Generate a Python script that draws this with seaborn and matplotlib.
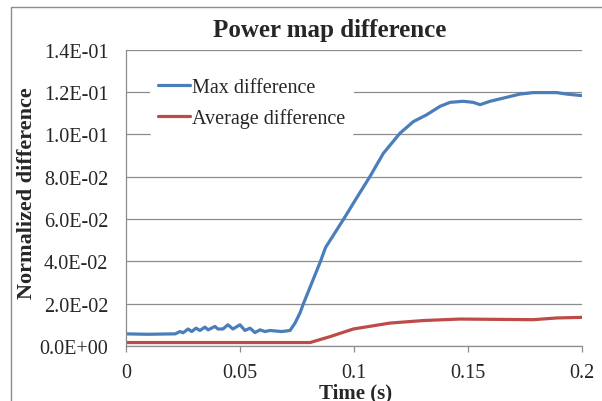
import matplotlib
matplotlib.use("Agg")
import matplotlib.pyplot as plt
import matplotlib.patches as mpatches
from matplotlib.ticker import FuncFormatter, MultipleLocator
import seaborn as sns
import pandas as pd

# ---- data ----
max_t = [0.0, 0.009, 0.0214, 0.0236, 0.0249, 0.0271, 0.0287, 0.0306, 0.0323,
         0.0345, 0.0359, 0.0389, 0.0402, 0.0424, 0.0446, 0.0468, 0.0499, 0.0521,
         0.0543, 0.0565, 0.0587, 0.0609, 0.0631, 0.0682, 0.0719, 0.0741, 0.0763,
         0.0778, 0.082, 0.0853, 0.0875, 0.0955, 0.1012, 0.107, 0.1129, 0.1202,
         0.1261, 0.1319, 0.1378, 0.1422, 0.148, 0.1524, 0.1554, 0.1598, 0.1656,
         0.1729, 0.1788, 0.1891, 0.1935, 0.2]
max_v = [0.0057, 0.0055, 0.0057, 0.0068, 0.0062, 0.0080, 0.0068, 0.0084, 0.0073,
         0.0089, 0.0076, 0.0092, 0.0080, 0.0080, 0.0100, 0.0080, 0.0100, 0.0073,
         0.0084, 0.0063, 0.0076, 0.0068, 0.0073, 0.0068, 0.0073, 0.0108, 0.0156,
         0.0200, 0.0312, 0.0400, 0.0465, 0.0600, 0.0700, 0.0800, 0.0910, 0.1005,
         0.1060, 0.1092, 0.1132, 0.1151, 0.1156, 0.1151, 0.1140, 0.1156, 0.1171,
         0.1190, 0.1197, 0.1197, 0.1190, 0.1183]

avg_t = [0.0, 0.0807, 0.0895, 0.0997, 0.1158, 0.1305, 0.1466, 0.1788, 0.189, 0.2]
avg_v = [0.0016, 0.0016, 0.0044, 0.0080, 0.0108, 0.0120, 0.0127, 0.0124, 0.0132, 0.0135]

x_ticks = [0, 0.05, 0.1, 0.15, 0.2]
x_tick_labels = ["0", "0.05", "0.1", "0.15", "0.2"]

series_names = ["Max difference", "Average difference"]
series_colors = ["#4A7EBB", "#BE4B48"]

df = pd.concat([
    pd.DataFrame({"t": max_t, "v": max_v, "series": series_names[0]}),
    pd.DataFrame({"t": avg_t, "v": avg_v, "series": series_names[1]}),
])

sns.set_style("white")
plt.rcParams["font.family"] = ["Liberation Serif", "DejaVu Serif"]

fig = plt.figure(figsize=(6.02, 4.02), dpi=100)
ax = fig.add_axes([0.210, 0.137, 0.756, 0.737])

sns.lineplot(data=df, x="t", y="v", hue="series", palette=series_colors,
             hue_order=series_names, linewidth=2.3, ax=ax, estimator=None,
             sort=False)

ax.set_xlim(0, 0.2)
ax.set_ylim(0, 0.14)
ax.yaxis.set_major_locator(MultipleLocator(0.02))
ax.yaxis.set_major_formatter(FuncFormatter(lambda v, p: f"{v:.1E}"))
ax.set_xticks(x_ticks)
ax.set_xticklabels(x_tick_labels)

ax.grid(axis="y", color="#8C8C8C", linewidth=0.9)
ax.set_axisbelow(True)
for s in ["top", "right"]:
    ax.spines[s].set_visible(False)
for s in ["left", "bottom"]:
    ax.spines[s].set_color("#8C8C8C")
    ax.spines[s].set_linewidth(0.9)

ax.tick_params(axis="x", bottom=True, length=4.5, width=0.9, color="#8C8C8C",
               direction="out", labelsize=14.5, pad=7.5)
ax.tick_params(axis="y", left=False, labelsize=14.5, pad=9.5)

ax.set_xlabel("")
ax.set_ylabel("")
fig.text(0.59, 0.022, "Time (s)", ha="center", va="center", fontsize=15,
         fontweight="bold")
fig.text(0.045, 0.52, "Normalized difference", ha="center", va="center",
         rotation=90, fontsize=16, fontweight="bold")
fig.text(0.548, 0.925, "Power map difference", ha="center", va="center",
         fontsize=18, fontweight="bold")

leg = ax.legend(loc="upper left", bbox_to_anchor=(0.03, 0.967), frameon=True,
                fontsize=14.5, handlelength=1.6, handletextpad=0.1,
                labelspacing=0.55, borderpad=0.4)
leg.get_frame().set_facecolor("white")
leg.get_frame().set_edgecolor("none")
leg.get_frame().set_alpha(1)
for line in leg.get_lines():
    line.set_linewidth(2.3)

border = mpatches.Rectangle((10.5 / 602, -0.1), 1.2, 0.981 + 0.1,
                            transform=fig.transFigure, fill=False,
                            edgecolor="#8C8C8C", linewidth=1.0, clip_on=False)
fig.patches.append(border)

fig.savefig("out.png", dpi=100)
